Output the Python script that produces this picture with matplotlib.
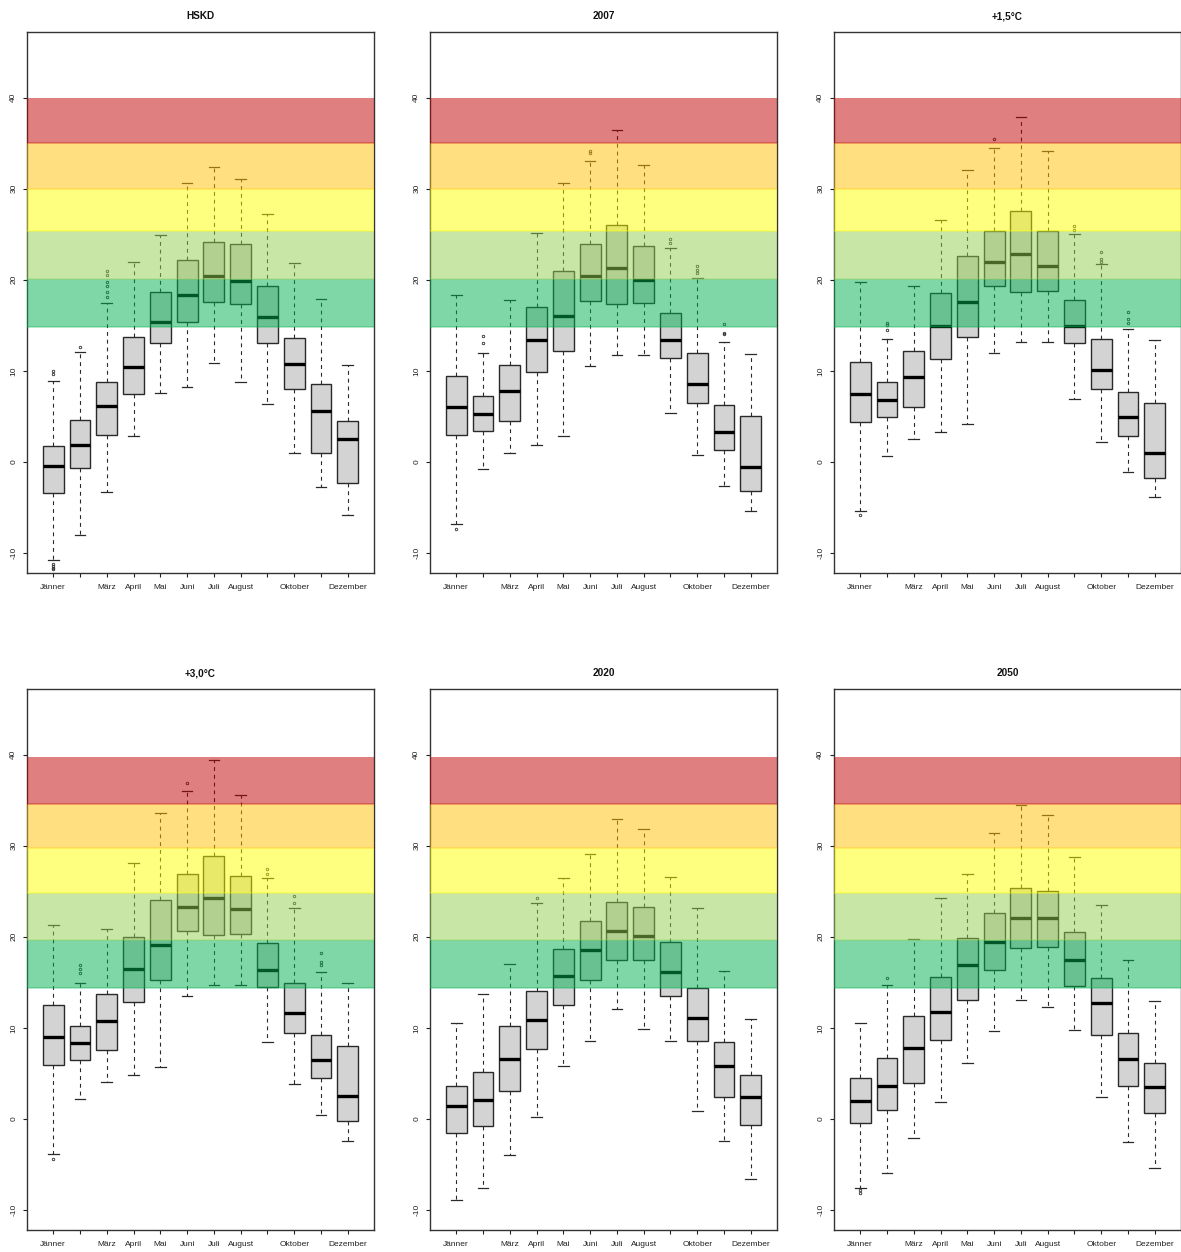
import matplotlib
matplotlib.use("Agg")
import matplotlib.pyplot as plt

plt.rcParams['font.family'] = ['Liberation Sans', 'DejaVu Sans']

# Months on the x axis; R leaves out labels that would collide
months = ["Jänner", "Februar", "März", "April", "Mai", "Juni", "Juli",
          "August", "September", "Oktober", "November", "Dezember"]
month_labels = ["Jänner", "", "März", "April", "Mai", "Juni", "Juli",
                "August", "", "Oktober", "", "Dezember"]

titles = ["HSKD", "2007", "+1,5°C", "+3,0°C", "2020", "2050"]

# Temperature classes (°C): green, light green, yellow, orange, red
band_colors = ["#00B050", "#92D050", "#FFFF00", "#FFC000", "#C00000"]
band_edges_top = [14.8, 20.1, 25.3, 30.0, 35.0, 40.0]
band_edges_bottom = [14.4, 19.65, 24.85, 29.7, 34.55, 39.7]

# ---- HSKD ----
hskd_whislo = [-10.8, -8.0, -3.3, 2.8, 7.6, 8.2, 10.9, 8.8, 6.4, 0.95, -2.8, -5.8]
hskd_q1 = [-3.4, -0.7, 3.0, 7.4, 13.0, 15.4, 17.6, 17.3, 13.0, 8.0, 0.95, -2.3]
hskd_med = [-0.4, 1.8, 6.1, 10.4, 15.4, 18.3, 20.4, 19.9, 15.9, 10.8, 5.6, 2.5]
hskd_q3 = [1.7, 4.6, 8.8, 13.7, 18.7, 22.2, 24.1, 23.9, 19.3, 13.6, 8.6, 4.5]
hskd_whishi = [8.9, 12.1, 17.4, 22.0, 24.9, 30.6, 32.4, 31.1, 27.2, 21.8, 17.9, 10.6]
hskd_fliers = [[9.7, 10.0, -11.2, -11.4, -11.6, -11.8], [12.6],
               [18.1, 18.6, 19.3, 19.8, 20.5, 21.0], [], [], [], [], [], [], [], [], []]

# ---- 2007 ----
y2007_whislo = [-6.8, -0.8, 0.95, 1.8, 2.8, 10.5, 11.7, 11.7, 5.4, 0.8, -2.6, -5.4]
y2007_q1 = [2.9, 3.4, 4.5, 9.9, 12.2, 17.7, 17.3, 17.4, 11.4, 6.5, 1.35, -3.2]
y2007_med = [6.0, 5.3, 7.8, 13.4, 16.0, 20.4, 21.3, 20.0, 13.4, 8.6, 3.3, -0.55]
y2007_q3 = [9.4, 7.2, 10.6, 17.0, 21.0, 23.9, 26.0, 23.7, 16.3, 12.0, 6.25, 5.05]
y2007_whishi = [18.3, 12.0, 17.8, 25.1, 30.6, 33.0, 36.4, 32.6, 23.5, 20.2, 13.2, 11.9]
y2007_fliers = [[-7.35], [13.1, 13.8], [], [], [], [33.9, 34.1], [], [],
                [24.0, 24.5], [20.7, 21.1, 21.5], [14.0, 14.2, 15.1], []]

# ---- +1,5°C ----
p15_whislo = [-5.4, 0.65, 2.5, 3.3, 4.2, 12.0, 13.2, 13.2, 6.9, 2.2, -1.1, -3.9]
p15_q1 = [4.4, 4.9, 6.0, 11.3, 13.75, 19.3, 18.7, 18.8, 13.0, 8.0, 2.85, -1.75]
p15_med = [7.4, 6.8, 9.3, 14.9, 17.6, 21.9, 22.8, 21.5, 14.9, 10.1, 4.9, 0.95]
p15_q3 = [11.0, 8.8, 12.2, 18.5, 22.6, 25.4, 27.5, 25.3, 17.8, 13.45, 7.7, 6.45]
p15_whishi = [19.8, 13.45, 19.35, 26.6, 32.1, 34.5, 37.9, 34.1, 25.0, 21.7, 14.6, 13.4]
p15_fliers = [[-5.85], [14.5, 15.06, 15.3], [], [], [], [35.4], [], [],
              [25.5, 25.9], [22.0, 22.3, 23.0], [15.3, 15.7, 16.5], []]

# ---- +3,0°C ----
p30_whislo = [-3.85, 2.15, 4.0, 4.8, 5.75, 13.45, 14.65, 14.65, 8.4, 3.8, 0.45, -2.4]
p30_q1 = [5.9, 6.5, 7.55, 12.85, 15.3, 20.65, 20.2, 20.25, 14.5, 9.45, 4.45, -0.2]
p30_med = [9.0, 8.3, 10.8, 16.45, 19.1, 23.3, 24.3, 23.0, 16.4, 11.65, 6.45, 2.5]
p30_q3 = [12.5, 10.2, 13.75, 20.0, 24.0, 26.9, 28.9, 26.7, 19.3, 14.9, 9.2, 8.0]
p30_whishi = [21.3, 14.95, 20.85, 28.1, 33.6, 36.0, 39.4, 35.6, 26.5, 23.1, 16.15, 14.9]
p30_fliers = [[-4.35], [16.0, 16.5, 16.85], [], [], [], [36.9], [], [],
              [26.9, 27.4], [23.7, 24.5], [16.85, 17.2, 18.2], []]

# ---- 2020 ----
y2020_whislo = [-8.95, -7.6, -4.0, 0.2, 5.8, 8.6, 12.1, 9.9, 8.6, 0.9, -2.4, -6.55]
y2020_q1 = [-1.6, -0.75, 3.05, 7.7, 12.5, 15.3, 17.5, 17.4, 13.5, 8.6, 2.35, -0.7]
y2020_med = [1.45, 2.1, 6.6, 10.9, 15.65, 18.5, 20.6, 20.1, 16.1, 11.05, 5.85, 2.45]
y2020_q3 = [3.6, 5.15, 10.2, 14.05, 18.7, 21.7, 23.8, 23.3, 19.45, 14.4, 8.4, 4.8]
y2020_whishi = [10.55, 13.75, 17.0, 23.7, 26.4, 29.1, 32.9, 31.8, 26.6, 23.1, 16.25, 11.0]
y2020_fliers = [[], [], [], [24.2], [], [], [], [], [], [], [], []]

# ---- 2050 ----
y2050_whislo = [-7.6, -5.9, -2.15, 1.85, 6.15, 9.7, 13.1, 12.25, 9.8, 2.45, -2.55, -5.4]
y2050_q1 = [-0.45, 0.95, 3.9, 8.7, 13.1, 16.4, 18.8, 18.9, 14.6, 9.2, 3.65, 0.6]
y2050_med = [2.0, 3.65, 7.75, 11.7, 16.85, 19.4, 22.05, 22.05, 17.4, 12.7, 6.6, 3.45]
y2050_q3 = [4.5, 6.7, 11.3, 15.6, 19.9, 22.6, 25.3, 25.05, 20.5, 15.45, 9.4, 6.1]
y2050_whishi = [10.55, 14.65, 19.7, 24.2, 26.9, 31.4, 34.5, 33.4, 28.8, 23.5, 17.4, 12.9]
y2050_fliers = [[-7.85, -8.1], [15.5], [], [], [], [], [], [], [], [], [], []]

panels = [
    (hskd_whislo, hskd_q1, hskd_med, hskd_q3, hskd_whishi, hskd_fliers),
    (y2007_whislo, y2007_q1, y2007_med, y2007_q3, y2007_whishi, y2007_fliers),
    (p15_whislo, p15_q1, p15_med, p15_q3, p15_whishi, p15_fliers),
    (p30_whislo, p30_q1, p30_med, p30_q3, p30_whishi, p30_fliers),
    (y2020_whislo, y2020_q1, y2020_med, y2020_q3, y2020_whishi, y2020_fliers),
    (y2050_whislo, y2050_q1, y2050_med, y2050_q3, y2050_whishi, y2050_fliers),
]

W, H = 1181, 1252
fig = plt.figure(figsize=(W / 100, H / 100), dpi=100)

col_left = [27, 430, 834]
row_top = [32, 689]
ax_w, ax_h = 347, 541

positions = list(range(1, 13))
edge_col = "#2a2a2a"

for i, (title, data) in enumerate(zip(titles, panels)):
    r, c = divmod(i, 3)
    left = col_left[c] / W
    bottom = 1 - (row_top[r] + ax_h) / H
    ax = fig.add_axes([left, bottom, ax_w / W, ax_h / H])

    whislo, q1, med, q3, whishi, fliers = data
    stats = []
    for k in range(12):
        stats.append(dict(label=months[k], whislo=whislo[k], q1=q1[k], med=med[k],
                          q3=q3[k], whishi=whishi[k], fliers=fliers[k]))

    ax.bxp(stats, positions=positions, widths=0.78, patch_artist=True,
           showfliers=True, manage_ticks=False,
           boxprops=dict(facecolor="#D3D3D3", edgecolor=edge_col, linewidth=1.0),
           medianprops=dict(color="black", linewidth=2.4, solid_capstyle="butt"),
           whiskerprops=dict(color=edge_col, linewidth=0.8, linestyle=(0, (3.5, 3.5))),
           capprops=dict(color=edge_col, linewidth=0.9),
           capwidths=0.4,
           flierprops=dict(marker="o", markersize=1.8, markerfacecolor="none",
                           markeredgecolor=edge_col, markeredgewidth=0.6))

    # Temperature class bands drawn translucently on top of the boxes
    edges = band_edges_top if r == 0 else band_edges_bottom
    for b, colr in enumerate(band_colors):
        ax.axhspan(edges[b], edges[b + 1], facecolor=colr, edgecolor="none",
                   alpha=0.5, linewidth=0, zorder=5)
        # faint boundary line along the lower edge of each class
        ax.axhline(edges[b], color=colr, alpha=0.35, linewidth=1.2, zorder=5.1)

    ax.set_xlim(0.02, 12.98)
    ax.set_ylim(-12.2, 47.2)
    ax.set_xticks(positions)
    ax.set_xticklabels(month_labels, fontsize=6.0, color="#222222")
    ax.set_yticks([-10, 0, 10, 20, 30, 40])
    ax.set_yticklabels(["-10", "0", "10", "20", "30", "40"], fontsize=6.0,
                       color="#222222", rotation=90, va="center")
    ax.tick_params(axis="x", length=3, width=0.8, pad=5, colors="#222222")
    ax.tick_params(axis="y", length=3, width=0.8, pad=4, colors="#222222")
    for sp in ax.spines.values():
        sp.set_color("#333333")
        sp.set_linewidth(1.0)
    ax.set_title(title, fontsize=7.2, fontweight="bold", pad=9.0, color="#111111")

fig.savefig("out.png", dpi=100)
